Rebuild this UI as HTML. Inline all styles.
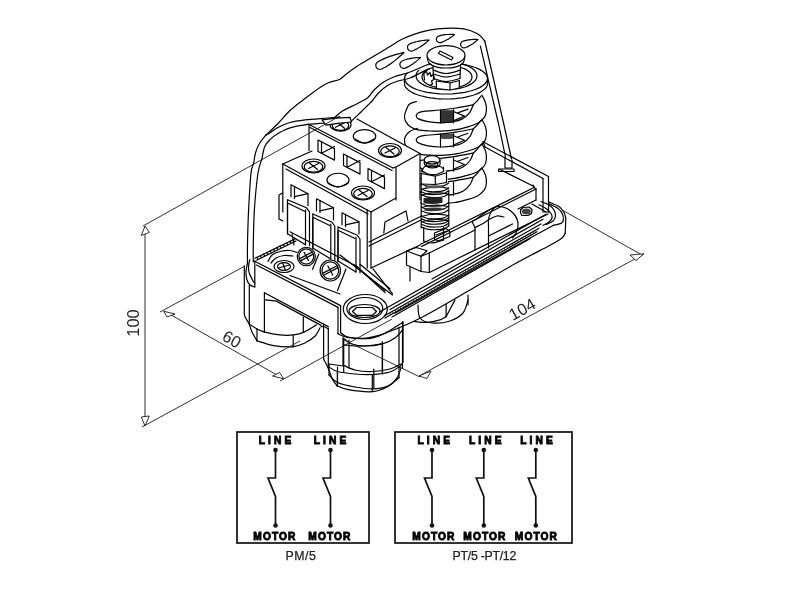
<!DOCTYPE html>
<html><head><meta charset="utf-8">
<style>
html,body{margin:0;padding:0;background:#fff;}
body{width:800px;height:600px;overflow:hidden;}
svg{display:block;will-change:transform;}
.lb{font-family:"Liberation Sans",sans-serif;font-weight:bold;font-size:10.2px;fill:#000;stroke:#000;stroke-width:0.85;}
.dm{font-family:"Liberation Sans",sans-serif;font-size:16px;fill:#222;}
.cap{font-family:"Liberation Sans",sans-serif;font-size:12.3px;fill:#222;stroke:#222;stroke-width:0.25;}
</style></head><body>
<svg width="800" height="600" viewBox="0 0 800 600">
<g stroke="none"><rect x="440.5" y="110.2" width="13" height="12.5" fill="#333"/><path d="M440.5,134.3 L453.5,133.8 L453.5,138.2 Q447,139.8 440.5,138.5Z" fill="#4a4a4a"/></g>
<g stroke="#000" fill="none" stroke-width="1.2" stroke-linejoin="round" stroke-linecap="round"><path d="M416.3,115.6 C416.6,115.2 416.6,113.7 418.0,113.0 C419.4,112.3 421.3,111.7 425.0,111.2 C428.7,110.7 434.8,110.5 440.0,110.0 C445.2,109.5 450.5,108.9 456.0,108.0 C461.5,107.1 470.3,105.3 473.2,104.8"/><path d="M416.3,115.6 C416.6,116.1 416.1,117.6 418.0,118.6 C419.9,119.6 424.3,120.9 428.0,121.6 C431.7,122.3 436.0,122.7 440.0,122.8 C444.0,122.9 448.2,122.7 452.0,122.0 C455.8,121.3 460.0,120.2 463.0,118.6 C466.0,116.9 468.3,114.4 470.0,112.1 C471.7,109.8 472.7,106.0 473.2,104.8"/><path d="M416.5,101.5 C415.2,102.0 410.8,102.7 409.0,104.5 C407.2,106.3 406.2,110.2 405.5,112.1 C404.8,114.0 404.5,114.6 404.5,116.1 C404.5,117.6 404.6,119.4 405.5,121.1 C406.4,122.8 407.9,124.9 410.0,126.4 C412.1,127.9 414.7,129.1 418.0,129.9 C421.3,130.7 426.2,130.8 430.0,131.0 C433.8,131.2 436.8,131.3 441.0,131.1 C445.2,130.9 450.5,130.6 455.0,129.9 C459.5,129.2 464.2,127.9 468.0,126.8 C471.8,125.7 475.2,124.7 478.0,123.1 C480.8,121.5 483.1,119.2 484.5,117.1 C485.9,115.0 486.2,113.0 486.4,110.6 C486.6,108.2 486.3,105.2 485.5,102.6 C484.7,100.0 482.4,96.3 481.8,95.1"/><path d="M473.2,104.8 L477.0,101.1 L481.0,96.1"/><path d="M416.3,139.8 C416.6,139.4 416.6,137.9 418.0,137.2 C419.4,136.5 421.3,135.9 425.0,135.4 C428.7,134.9 434.8,134.7 440.0,134.2 C445.2,133.7 450.5,133.1 456.0,132.2 C461.5,131.3 470.3,129.5 473.2,129.0"/><path d="M416.3,139.8 C416.6,140.3 416.1,141.8 418.0,142.8 C419.9,143.8 424.3,145.1 428.0,145.8 C431.7,146.5 436.0,146.9 440.0,147.0 C444.0,147.1 448.2,146.9 452.0,146.2 C455.8,145.5 460.0,144.5 463.0,142.8 C466.0,141.2 468.3,138.6 470.0,136.3 C471.7,134.0 472.7,130.2 473.2,129.0"/><path d="M417.5,128.3 C416.2,128.8 412.0,130.0 410.0,131.3 C408.0,132.6 406.4,134.8 405.5,136.3 C404.6,137.8 404.5,138.8 404.5,140.3 C404.5,141.8 404.6,143.6 405.5,145.3 C406.4,147.0 407.9,149.1 410.0,150.6 C412.1,152.1 414.7,153.3 418.0,154.1 C421.3,154.9 426.2,155.0 430.0,155.2 C433.8,155.4 436.8,155.5 441.0,155.3 C445.2,155.1 450.5,154.8 455.0,154.1 C459.5,153.4 464.2,152.1 468.0,151.0 C471.8,149.9 475.2,148.9 478.0,147.3 C480.8,145.7 483.1,143.4 484.5,141.3 C485.9,139.2 486.2,137.2 486.4,134.8 C486.6,132.4 486.3,129.4 485.5,126.8 C484.7,124.2 482.4,120.6 481.8,119.3"/><path d="M473.2,129.0 L477.0,125.3 L481.0,120.3"/><path d="M416.3,164.0 C416.6,163.6 416.6,162.1 418.0,161.4 C419.4,160.7 421.3,160.1 425.0,159.6 C428.7,159.1 434.8,158.9 440.0,158.4 C445.2,157.9 450.5,157.3 456.0,156.4 C461.5,155.5 470.3,153.7 473.2,153.2"/><path d="M416.3,164.0 C416.6,164.5 416.1,166.0 418.0,167.0 C419.9,168.0 424.3,169.3 428.0,170.0 C431.7,170.7 436.0,171.1 440.0,171.2 C444.0,171.3 448.2,171.1 452.0,170.4 C455.8,169.7 460.0,168.7 463.0,167.0 C466.0,165.3 468.3,162.8 470.0,160.5 C471.7,158.2 472.7,154.4 473.2,153.2"/><path d="M417.5,152.5 C416.2,153.0 412.0,154.2 410.0,155.5 C408.0,156.8 406.4,159.0 405.5,160.5 C404.6,162.0 404.5,163.0 404.5,164.5 C404.5,166.0 404.6,167.8 405.5,169.5 C406.4,171.2 407.9,173.3 410.0,174.8 C412.1,176.3 414.7,177.5 418.0,178.3 C421.3,179.1 426.2,179.2 430.0,179.4 C433.8,179.6 436.8,179.7 441.0,179.5 C445.2,179.3 450.5,179.0 455.0,178.3 C459.5,177.6 464.2,176.3 468.0,175.2 C471.8,174.1 475.2,173.1 478.0,171.5 C480.8,169.9 483.1,167.6 484.5,165.5 C485.9,163.4 486.2,161.4 486.4,159.0 C486.6,156.6 486.3,153.6 485.5,151.0 C484.7,148.4 482.4,144.8 481.8,143.5"/><path d="M473.2,153.2 L477.0,149.5 L481.0,144.5"/><path d="M416.3,188.2 C416.6,187.8 416.6,186.3 418.0,185.6 C419.4,184.9 421.3,184.3 425.0,183.8 C428.7,183.3 434.8,183.1 440.0,182.6 C445.2,182.1 450.5,181.5 456.0,180.6 C461.5,179.7 470.3,177.9 473.2,177.4"/><path d="M416.3,188.2 C416.6,188.7 416.1,190.2 418.0,191.2 C419.9,192.2 424.3,193.5 428.0,194.2 C431.7,194.9 436.0,195.3 440.0,195.4 C444.0,195.5 448.2,195.3 452.0,194.6 C455.8,193.9 460.0,192.8 463.0,191.2 C466.0,189.5 468.3,187.0 470.0,184.7 C471.7,182.4 472.7,178.6 473.2,177.4"/><path d="M417.5,176.7 C416.2,177.2 412.0,178.4 410.0,179.7 C408.0,181.0 406.4,183.2 405.5,184.7 C404.6,186.2 404.5,187.2 404.5,188.7 C404.5,190.2 404.6,192.0 405.5,193.7 C406.4,195.4 407.9,197.5 410.0,199.0 C412.1,200.5 414.7,201.7 418.0,202.5 C421.3,203.3 426.2,203.4 430.0,203.6 C433.8,203.8 436.8,203.9 441.0,203.7 C445.2,203.5 450.5,203.2 455.0,202.5 C459.5,201.8 464.2,200.5 468.0,199.4 C471.8,198.3 475.2,197.3 478.0,195.7 C480.8,194.1 483.1,191.8 484.5,189.7 C485.9,187.6 486.2,185.6 486.4,183.2 C486.6,180.8 486.3,177.8 485.5,175.2 C484.7,172.6 482.4,168.9 481.8,167.7"/><path d="M473.2,177.4 L477.0,173.7 L481.0,168.7"/><path d="M440.5,110.0 L440.5,122.8"/><path d="M453.5,109.5 L453.5,122.8"/><path d="M440.5,134.2 L440.5,147.0"/><path d="M453.5,133.7 L453.5,147.0"/><path d="M440.5,158.4 L440.5,171.2"/><path d="M453.5,157.9 L453.5,171.2"/><path d="M440.5,182.6 L440.5,195.4"/><path d="M453.5,182.1 L453.5,195.4"/><path d="M454,111.8 L464.5,116.1 L454,120.6 M457,113.1 L468,109.1"/><path d="M454,136.0 L464.5,140.3 L454,144.8 M457,137.3 L468,133.3"/><path d="M454,160.2 L464.5,164.5 L454,169.0 M457,161.5 L468,157.5"/></g>
<path d="M404.5,78.5 L404.6,77.3 L405.0,76.1 L405.6,74.9 L406.5,73.7 L407.7,72.6 L409.0,71.5 L410.6,70.4 L412.4,69.4 L414.4,68.4 L416.7,67.5 L419.0,66.7 L421.6,66.0 L424.3,65.3 L427.2,64.7 L430.1,64.2 L433.2,63.8 L436.3,63.4 L439.5,63.2 L442.7,63.0 L446.0,63.0 L449.3,63.0 L452.5,63.2 L455.7,63.4 L458.8,63.8 L461.9,64.2 L464.8,64.7 L467.7,65.3 L470.4,66.0 L473.0,66.7 L475.3,67.5 L477.6,68.4 L479.6,69.4 L481.4,70.4 L483.0,71.5 L484.3,72.6 L485.5,73.7 L486.4,74.9 L487.0,76.1 L487.4,77.3 L487.5,78.5 L487.5,83.5 L487.4,84.7 L487.0,85.9 L486.4,87.1 L485.5,88.3 L484.3,89.4 L483.0,90.5 L481.4,91.6 L479.6,92.6 L477.6,93.6 L475.3,94.5 L473.0,95.3 L470.4,96.0 L467.7,96.7 L464.8,97.3 L461.9,97.8 L458.8,98.2 L455.7,98.6 L452.5,98.8 L449.3,99.0 L446.0,99.0 L442.7,99.0 L439.5,98.8 L436.3,98.6 L433.2,98.2 L430.1,97.8 L427.2,97.3 L424.3,96.7 L421.6,96.0 L419.0,95.3 L416.7,94.5 L414.4,93.6 L412.4,92.6 L410.6,91.6 L409.0,90.5 L407.7,89.4 L406.5,88.3 L405.6,87.1 L405.0,85.9 L404.6,84.7 L404.5,83.5Z" fill="#fff" stroke="none" stroke-width="1.2"/>
<path d="M487.5,78.5 L487.0,80.9 L485.5,83.3 L483.0,85.5 L479.6,87.6 L475.3,89.5 L470.4,91.0 L464.8,92.3 L458.8,93.2 L452.5,93.8 L446.0,94.0 L439.5,93.8 L433.2,93.2 L427.2,92.3 L421.6,91.0 L416.7,89.5 L412.4,87.6 L409.0,85.5 L406.5,83.3 L405.0,80.9 L404.5,78.5 L405.0,76.1 L406.5,73.7 L409.0,71.5 L412.4,69.4 L416.7,67.5 L421.6,66.0 L427.2,64.7 L433.2,63.8 L439.5,63.2 L446.0,63.0 L452.5,63.2 L458.8,63.8 L464.8,64.7 L470.4,66.0 L475.3,67.5 L479.6,69.4 L483.0,71.5 L485.5,73.7 L487.0,76.1 L487.5,78.5Z" fill="none" stroke="#000" stroke-width="1.2"/>
<path d="M404.5,83.5 L404.6,84.7 L405.0,85.9 L405.6,87.1 L406.5,88.3 L407.7,89.4 L409.0,90.5 L410.6,91.6 L412.4,92.6 L414.4,93.6 L416.7,94.5 L419.0,95.3 L421.6,96.0 L424.3,96.7 L427.2,97.3 L430.1,97.8 L433.2,98.2 L436.3,98.6 L439.5,98.8 L442.7,99.0 L446.0,99.0 L449.3,99.0 L452.5,98.8 L455.7,98.6 L458.8,98.2 L461.9,97.8 L464.8,97.3 L467.7,96.7 L470.4,96.0 L473.0,95.3 L475.3,94.5 L477.6,93.6 L479.6,92.6 L481.4,91.6 L483.0,90.5 L484.3,89.4 L485.5,88.3 L486.4,87.1 L487.0,85.9 L487.4,84.7 L487.5,83.5" fill="none" stroke="#000" stroke-width="1.2"/>
<path d="M404.5,78.5 L404.5,83.5 M487.5,78.5 L487.5,83.5" fill="none" stroke="#000" stroke-width="1.2"/>
<path d="M477.0,75.8 L476.6,78.0 L475.5,80.1 L473.7,82.1 L471.2,83.9 L468.1,85.6 L464.4,87.0 L460.3,88.1 L455.9,88.9 L451.3,89.4 L446.5,89.6 L441.7,89.4 L437.1,88.9 L432.7,88.1 L428.6,87.0 L424.9,85.6 L421.8,83.9 L419.3,82.1 L417.5,80.1 L416.4,78.0 L416.0,75.8 L416.4,73.6 L417.5,71.5 L419.3,69.5 L421.8,67.7 L424.9,66.0 L428.6,64.6 L432.7,63.5 L437.1,62.7 L441.7,62.2 L446.5,62.0 L451.3,62.2 L455.9,62.7 L460.3,63.5 L464.4,64.6 L468.1,66.0 L471.2,67.7 L473.7,69.5 L475.5,71.5 L476.6,73.6 L477.0,75.8Z" fill="none" stroke="#000" stroke-width="1.2"/>
<path d="M472.0,77.0 L471.7,78.8 L470.8,80.6 L469.3,82.2 L467.2,83.8 L464.7,85.1 L461.7,86.3 L458.3,87.2 L454.7,87.9 L450.9,88.4 L447.0,88.5 L443.1,88.4 L439.3,87.9 L435.7,87.2 L432.3,86.3 L429.3,85.1 L426.8,83.8 L424.7,82.2 L423.2,80.6 L422.3,78.8 L422.0,77.0 L422.3,75.2 L423.2,73.4 L424.7,71.8 L426.8,70.2 L429.3,68.9 L432.3,67.7 L435.7,66.8 L439.3,66.1 L443.1,65.6 L447.0,65.5 L450.9,65.6 L454.7,66.1 L458.3,66.8 L461.7,67.7 L464.7,68.9 L467.2,70.2 L469.3,71.8 L470.8,73.4 L471.7,75.2 L472.0,77.0Z" fill="none" stroke="#000" stroke-width="1.2"/>
<g stroke="none"></g>
<g stroke="none" fill="#fff">
<path d="M335.0,117.0 C343.8,116.8 338.8,113.2 342.5,111.0 C346.2,108.8 353.2,105.8 357.5,103.5 C361.8,101.2 365.2,99.8 368.0,97.5 C370.8,95.2 371.5,92.5 374.0,90.0 C376.5,87.5 379.5,84.8 383.0,82.5 C386.5,80.2 390.5,78.2 395.0,76.5 C399.5,74.8 404.2,74.2 410.0,72.0 C415.8,69.8 426.0,70.4 430.0,63.5 C434.0,56.6 436.2,35.4 433.8,30.5 C431.2,25.6 420.2,32.6 415.0,34.0 C409.8,35.4 407.1,36.7 402.5,39.0 C397.9,41.3 392.5,45.0 387.5,48.0 C382.5,51.0 377.5,54.0 372.5,57.0 C367.5,60.0 361.8,63.2 357.5,66.0 C353.2,68.8 350.0,71.2 347.0,73.5 C344.0,75.8 342.5,78.0 339.5,79.5 C336.5,81.0 332.2,81.2 329.0,82.5 C325.8,83.8 324.0,84.5 320.0,87.0 C316.0,89.5 310.0,93.2 305.0,97.5 C300.0,101.8 285.0,109.2 290.0,112.5 C295.0,115.8 326.2,117.2 335.0,117.0Z"/>
<path d="M427.0,55.0 L428.0,62.0 L433.0,66.0 L433.5,79.0 L436.5,88.5 L450.0,90.2 L459.2,88.0 L460.0,79.0 L460.5,65.5 L464.0,62.0 L465.0,55.0 L446.0,45.5Z"/>
<path d="M424.0,158.0 L432.0,155.5 L440.0,158.0 L443.5,166.0 L446.5,172.5 L448.8,185.0 L449.0,226.0 L444.0,241.0 L432.0,244.0 L423.7,242.0 L421.2,228.0 L421.2,173.0Z"/>
<path d="M309.0,124.5 L357.0,119.0 L420.0,153.5 L420.0,250.0 L396.0,262.0 L309.0,215.0Z"/>
</g>
<g stroke="#000" fill="none" stroke-width="1.2" stroke-linejoin="round" stroke-linecap="round">
<path d="M266.0,135.0 C267.9,133.2 273.5,128.1 277.5,124.0 C281.5,119.9 285.4,114.8 290.0,110.5 C294.6,106.2 300.0,102.3 305.0,98.5 C310.0,94.7 316.0,90.2 320.0,87.5 C324.0,84.8 325.8,83.8 329.0,82.5 C332.2,81.2 336.5,81.0 339.5,79.5 C342.5,78.0 344.0,75.8 347.0,73.5 C350.0,71.2 353.2,68.8 357.5,66.0 C361.8,63.2 367.5,60.0 372.5,57.0 C377.5,54.0 382.5,51.0 387.5,48.0 C392.5,45.0 397.1,41.6 402.5,39.0 C407.9,36.4 414.2,34.0 420.0,32.3 C425.8,30.6 430.2,29.4 437.5,28.8 C444.8,28.2 457.0,27.9 463.8,28.8 C470.5,29.7 474.2,32.0 477.8,34.0 C481.2,36.0 483.6,39.8 484.8,41.0"/>
<path d="M484.8,41.0 L504.0,125.0 L511.5,159.0"/>
<path d="M480.4,46.2 L498.8,125.0 L505.5,157.0"/>
<path d="M266.0,135.0 C265.0,136.2 261.7,139.6 260.0,142.5 C258.3,145.4 256.6,149.2 255.6,152.5 C254.6,155.8 254.5,159.1 253.8,162.5 C253.0,165.9 251.8,165.4 251.0,173.0 C250.2,180.6 249.3,196.3 248.7,208.0 C248.1,219.7 247.7,233.7 247.5,243.0 C247.3,252.3 247.5,260.5 247.5,264.0"/>
<path d="M261.9,159.2 C261.2,161.5 259.2,164.9 258.0,173.0 C256.8,181.1 255.3,196.3 254.5,208.0 C253.7,219.7 253.5,234.0 253.3,243.0 C253.1,252.0 253.3,258.8 253.3,262.0"/>
<path d="M266.0,135.0 C266.6,134.7 267.6,134.3 269.8,133.0 C271.9,131.7 275.4,128.8 278.8,127.0 C282.1,125.2 285.6,123.7 290.0,122.5 C294.4,121.3 298.8,120.7 305.0,119.9 C311.2,119.2 321.7,118.5 327.5,118.0 C333.3,117.5 337.9,117.2 340.0,117.0"/>
<path d="M261.9,159.2 C262.3,157.2 263.2,150.5 264.5,147.2 C265.8,144.0 267.4,142.1 269.8,139.8 C272.1,137.4 275.4,135.0 278.8,133.0 C282.1,131.0 285.6,129.1 290.0,127.8 C294.4,126.4 299.2,125.5 305.0,124.8 C310.8,124.0 319.2,123.5 325.0,123.0 C330.8,122.5 337.5,122.2 340.0,122.0"/>
<path d="M333.0,119.0 C334.6,117.7 338.4,113.6 342.5,111.0 C346.6,108.4 353.2,105.8 357.5,103.5 C361.8,101.2 365.2,99.8 368.0,97.5 C370.8,95.2 371.5,92.5 374.0,90.0 C376.5,87.5 379.5,84.8 383.0,82.5 C386.5,80.2 390.5,78.2 395.0,76.5 C399.5,74.8 404.2,74.2 410.0,72.0 C415.8,69.8 426.7,64.9 430.0,63.5"/>
<path d="M351.5,121.0 C353.2,119.3 359.2,113.7 362.0,111.0 C364.8,108.3 366.2,106.8 368.0,105.0 C369.8,103.2 370.8,102.5 372.5,100.5 C374.2,98.5 376.0,95.5 378.5,93.0 C381.0,90.5 384.2,87.5 387.5,85.5 C390.8,83.5 394.2,82.2 398.0,81.0 C401.8,79.8 405.0,80.0 410.0,78.0 C415.0,76.0 425.0,70.5 428.0,69.0"/>
<path d="M404.0,52.5 C404.0,52.6 403.9,52.7 403.6,52.9 C403.4,53.2 403.0,53.6 402.4,54.0 C401.9,54.5 401.3,55.1 400.5,55.8 C399.8,56.4 398.9,57.2 398.0,58.0 C397.1,58.7 396.1,59.6 395.0,60.4 C394.0,61.2 392.8,62.1 391.7,62.9 C390.6,63.7 389.5,64.5 388.4,65.2 C387.3,65.9 386.2,66.6 385.2,67.2 C384.1,67.8 383.2,68.4 382.3,68.8 C381.4,69.2 380.6,69.5 379.9,69.5 C379.1,69.5 378.3,69.2 377.7,68.8 C377.1,68.5 376.6,67.9 376.3,67.3 C376.0,66.7 375.8,65.9 375.8,65.2 C375.8,64.5 376.0,63.7 376.4,63.1 C376.9,62.4 377.6,61.9 378.4,61.4 C379.2,60.9 380.2,60.5 381.3,60.0 C382.3,59.4 383.5,58.9 384.7,58.4 C386.0,57.9 387.3,57.4 388.6,56.9 C389.8,56.4 391.2,56.0 392.4,55.6 C393.7,55.1 395.0,54.8 396.1,54.4 C397.3,54.1 398.4,53.8 399.3,53.6 C400.3,53.3 401.2,53.1 401.8,52.9 C402.5,52.8 403.1,52.7 403.4,52.6 C403.8,52.5 404.0,52.4 404.0,52.5Z"/>
<path d="M420.5,57.5 C420.5,57.6 420.4,57.6 420.2,57.8 C420.0,58.0 419.7,58.3 419.4,58.6 C419.0,59.0 418.5,59.4 418.0,59.9 C417.5,60.3 416.8,60.9 416.2,61.4 C415.5,61.9 414.8,62.5 414.0,63.1 C413.2,63.6 412.4,64.2 411.6,64.7 C410.8,65.3 409.9,65.8 409.1,66.2 C408.3,66.7 407.5,67.1 406.8,67.4 C406.0,67.8 405.3,68.2 404.7,68.3 C404.0,68.4 403.3,68.4 402.7,68.3 C402.2,68.1 401.6,67.8 401.2,67.4 C400.8,67.0 400.4,66.5 400.2,66.0 C400.0,65.5 399.9,64.9 399.9,64.3 C399.9,63.8 400.1,63.1 400.4,62.6 C400.7,62.1 401.1,61.6 401.7,61.2 C402.3,60.8 403.0,60.6 403.8,60.3 C404.6,60.0 405.4,59.7 406.3,59.5 C407.2,59.2 408.2,59.0 409.1,58.8 C410.0,58.5 411.0,58.4 412.0,58.2 C412.9,58.1 413.8,57.9 414.7,57.8 C415.5,57.7 416.3,57.7 417.1,57.6 C417.8,57.6 418.4,57.5 418.9,57.5 C419.4,57.5 419.8,57.5 420.1,57.5 C420.4,57.5 420.5,57.4 420.5,57.5Z"/>
<path d="M429.0,40.0 C429.0,40.1 428.9,40.1 428.7,40.3 C428.5,40.5 428.2,40.8 427.8,41.1 C427.4,41.5 426.9,41.9 426.3,42.4 C425.8,42.8 425.1,43.4 424.4,43.9 C423.7,44.4 422.9,45.0 422.1,45.6 C421.3,46.2 420.4,46.7 419.6,47.3 C418.7,47.8 417.8,48.3 417.0,48.8 C416.2,49.2 415.3,49.7 414.5,50.0 C413.7,50.4 413.0,50.8 412.3,51.0 C411.6,51.1 411.0,51.1 410.4,51.0 C409.8,50.9 409.2,50.5 408.8,50.2 C408.4,49.8 408.0,49.3 407.8,48.7 C407.6,48.2 407.5,47.6 407.5,47.0 C407.6,46.5 407.7,45.9 408.0,45.3 C408.4,44.8 408.9,44.4 409.5,44.0 C410.1,43.6 410.9,43.4 411.7,43.1 C412.5,42.8 413.4,42.5 414.3,42.2 C415.2,42.0 416.2,41.7 417.2,41.5 C418.2,41.2 419.2,41.1 420.2,40.9 C421.1,40.7 422.1,40.6 423.0,40.5 C423.9,40.3 424.7,40.3 425.4,40.2 C426.2,40.1 426.8,40.1 427.4,40.0 C427.9,40.0 428.3,40.0 428.6,40.0 C428.8,40.0 429.0,39.9 429.0,40.0Z"/>
<path d="M454.5,34.5 C454.5,34.5 454.4,34.6 454.2,34.7 C454.1,34.9 453.8,35.1 453.5,35.4 C453.1,35.7 452.7,36.0 452.2,36.4 C451.7,36.7 451.1,37.2 450.5,37.6 C449.9,38.0 449.3,38.4 448.6,38.9 C447.9,39.3 447.1,39.7 446.4,40.1 C445.7,40.5 444.9,40.9 444.2,41.2 C443.5,41.6 442.8,41.9 442.1,42.1 C441.4,42.3 440.8,42.6 440.2,42.7 C439.6,42.7 439.1,42.7 438.6,42.5 C438.1,42.3 437.7,42.0 437.3,41.6 C437.0,41.3 436.7,40.8 436.6,40.4 C436.4,39.9 436.4,39.4 436.4,38.9 C436.5,38.4 436.7,37.9 436.9,37.4 C437.2,37.0 437.6,36.6 438.2,36.3 C438.7,36.0 439.3,35.9 440.0,35.7 C440.7,35.5 441.4,35.3 442.2,35.1 C443.0,35.0 443.8,34.8 444.7,34.7 C445.5,34.6 446.3,34.5 447.1,34.5 C447.9,34.4 448.8,34.4 449.5,34.4 C450.2,34.3 450.9,34.3 451.5,34.3 C452.1,34.3 452.7,34.4 453.1,34.4 C453.6,34.4 453.9,34.4 454.1,34.5 C454.4,34.5 454.5,34.5 454.5,34.5Z"/>
<path d="M478.0,39.5 C478.0,39.5 477.9,39.6 477.8,39.8 C477.6,39.9 477.3,40.1 477.0,40.4 C476.7,40.7 476.3,41.0 475.8,41.4 C475.4,41.8 474.8,42.2 474.3,42.6 C473.7,43.1 473.1,43.5 472.4,44.0 C471.8,44.4 471.1,44.9 470.4,45.3 C469.7,45.7 468.9,46.0 468.3,46.4 C467.6,46.7 466.9,47.0 466.2,47.3 C465.6,47.5 465.0,47.8 464.4,47.9 C463.9,47.9 463.3,47.9 462.8,47.7 C462.4,47.5 461.9,47.2 461.6,46.9 C461.2,46.5 461.0,46.1 460.8,45.6 C460.6,45.2 460.6,44.7 460.6,44.2 C460.7,43.7 460.8,43.2 461.1,42.8 C461.3,42.3 461.7,41.9 462.2,41.6 C462.7,41.3 463.3,41.1 464.0,40.9 C464.6,40.7 465.3,40.5 466.1,40.3 C466.8,40.2 467.6,40.0 468.4,39.9 C469.2,39.8 470.1,39.7 470.8,39.6 C471.6,39.5 472.4,39.5 473.1,39.4 C473.8,39.4 474.5,39.4 475.1,39.4 C475.7,39.4 476.2,39.4 476.7,39.4 C477.1,39.4 477.4,39.4 477.7,39.5 C477.9,39.5 478.0,39.5 478.0,39.5Z"/>
<path d="M505.0,157.0 L505.0,168.0 L512.0,168.0 L512.0,160.0"/>
<path d="M498.6,169.0 L514.0,169.0 L514.0,171.5 L498.6,171.5 L498.6,169.0"/>
<ellipse cx="446" cy="55.3" rx="19" ry="9.7"/>
<path d="M427.2,57.0 C427.5,58.0 427.5,61.4 429.0,63.0 C430.5,64.6 433.2,66.0 436.0,66.8 C438.8,67.6 442.7,68.0 446.0,68.0 C449.3,68.0 453.2,67.6 456.0,66.8 C458.8,66.0 461.5,64.6 463.0,63.0 C464.5,61.4 464.5,58.0 464.8,57.0"/>
<path d="M440.0,51.0 L453.0,57.5 L451.5,60.0 L438.5,53.5Z"/>
<path d="M433.0,66.0 L433.5,78.5"/>
<path d="M460.5,65.5 L460.0,78.5"/>
<path d="M433.0,70.0 C435.2,70.6 441.4,73.5 446.0,73.5 C450.6,73.5 458.1,70.6 460.5,70.0"/>
<path d="M433.5,74.0 C435.6,74.5 441.6,77.0 446.0,77.0 C450.4,77.0 457.7,74.5 460.0,74.0"/>
<path d="M433.5,78.5 C435.6,79.0 441.6,81.5 446.0,81.5 C450.4,81.5 457.7,79.0 460.0,78.5"/>
<path d="M436.3,81.0 L450.0,83.0 L459.4,80.5"/>
<path d="M436.3,81.0 L436.5,88.5"/>
<path d="M450.0,83.0 L450.0,90.0"/>
<path d="M459.4,80.5 L459.2,88.0"/>
<path d="M436.5,88.5 L450.0,90.0 L459.2,88.0"/>
<path d="M423.8,73.5 L426.5,71.2 L427.5,75.0 L430.0,72.5 L431.0,76.5 L433.5,74.0 L434.5,79.0 L431.5,81.0 L432.5,84.0 L429.5,85.5"/>
<path d="M423.8,73.5 L424.5,80.0"/>
<ellipse cx="432" cy="159.9" rx="7.9" ry="4.2"/>
<path d="M424.2,160.5 C424.3,161.2 423.7,163.8 425.0,165.0 C426.3,166.2 429.6,167.9 432.0,168.0 C434.4,168.1 438.2,166.8 439.5,165.5 C440.8,164.2 439.9,161.3 440.0,160.5"/>
<ellipse cx="432" cy="164.2" rx="5.8" ry="2.6"/>
<path d="M422.0,171.0 C422.5,170.2 423.3,167.4 425.0,166.5 C426.7,165.6 429.5,165.8 432.0,165.8 C434.5,165.8 438.1,166.0 440.0,166.5 C441.9,167.0 442.9,168.6 443.5,169.0"/>
<path d="M422.0,171.0 C423.0,171.5 425.7,173.4 428.0,174.0 C430.3,174.6 433.4,174.9 436.0,174.5 C438.6,174.1 442.2,172.0 443.5,171.5"/>
<path d="M422.0,168.5 L422.0,172.0"/>
<path d="M443.5,167.0 L443.5,171.5"/>
<path d="M421.2,173.5 L435.3,176.2 L446.5,172.8"/>
<path d="M421.2,173.5 L421.2,184.0"/>
<path d="M435.3,176.2 L435.3,184.5"/>
<path d="M446.5,172.8 L446.5,182.5"/>
<path d="M421.2,184.0 L435.3,184.5 L446.5,182.5"/>
<path d="M421.5,184.0 C422.6,184.4 425.6,185.9 428.0,186.3 C430.4,186.8 433.3,186.8 436.0,186.7 C438.7,186.6 441.9,186.3 444.0,185.7 C446.1,185.1 447.8,183.4 448.6,183.0"/>
<path d="M421.5,189.0 C422.6,189.4 425.6,190.9 428.0,191.3 C430.4,191.8 433.3,191.8 436.0,191.7 C438.7,191.6 441.9,191.3 444.0,190.7 C446.1,190.1 447.8,188.4 448.6,188.0"/>
<path d="M421.5,191.8 C422.6,192.2 425.6,193.7 428.0,194.1 C430.4,194.6 433.3,194.6 436.0,194.5 C438.7,194.4 441.9,194.1 444.0,193.5 C446.1,192.9 447.8,191.2 448.6,190.8"/>
<path d="M421.5,194.8 C422.6,195.2 425.6,196.7 428.0,197.1 C430.4,197.6 433.3,197.6 436.0,197.5 C438.7,197.4 441.9,197.1 444.0,196.5 C446.1,195.9 447.8,194.2 448.6,193.8"/>
<path d="M421.5,203.5 C422.6,203.9 425.6,205.4 428.0,205.8 C430.4,206.2 433.3,206.3 436.0,206.2 C438.7,206.1 441.9,205.8 444.0,205.2 C446.1,204.6 447.8,202.9 448.6,202.5"/>
<path d="M421.5,207.2 C422.6,207.6 425.6,209.1 428.0,209.5 C430.4,209.9 433.3,210.0 436.0,209.9 C438.7,209.8 441.9,209.5 444.0,208.9 C446.1,208.3 447.8,206.6 448.6,206.2"/>
<path d="M421.5,210.8 C422.6,211.2 425.6,212.7 428.0,213.1 C430.4,213.6 433.3,213.6 436.0,213.5 C438.7,213.4 441.9,213.1 444.0,212.5 C446.1,211.9 447.8,210.2 448.6,209.8"/>
<path d="M421.5,216.2 C422.6,216.6 425.6,218.1 428.0,218.5 C430.4,218.9 433.3,219.0 436.0,218.9 C438.7,218.8 441.9,218.5 444.0,217.9 C446.1,217.3 447.8,215.6 448.6,215.2"/>
<path d="M421.5,218.8 C422.6,219.2 425.6,220.7 428.0,221.1 C430.4,221.6 433.3,221.6 436.0,221.5 C438.7,221.4 441.9,221.1 444.0,220.5 C446.1,219.9 447.8,218.2 448.6,217.8"/>
<path d="M421.5,221.5 C422.6,221.9 425.6,223.4 428.0,223.8 C430.4,224.2 433.3,224.3 436.0,224.2 C438.7,224.1 441.9,223.8 444.0,223.2 C446.1,222.6 447.8,220.9 448.6,220.5"/>
<path d="M421.5,224.3 C422.6,224.7 425.6,226.2 428.0,226.6 C430.4,227.1 433.3,227.1 436.0,227.0 C438.7,226.9 441.9,226.6 444.0,226.0 C446.1,225.4 447.8,223.8 448.6,223.3"/>
<path d="M421.5,227.0 C422.6,227.4 425.6,228.9 428.0,229.3 C430.4,229.8 433.3,229.8 436.0,229.7 C438.7,229.6 441.9,229.3 444.0,228.7 C446.1,228.1 447.8,226.4 448.6,226.0"/>
<path d="M422.0,189.2 C423.3,188.9 427.0,187.7 430.0,187.3 C433.0,187.0 436.9,186.9 440.0,187.1 C443.1,187.3 447.0,188.1 448.4,188.3"/>
<path d="M422.0,195.0 C423.3,194.7 427.0,193.5 430.0,193.1 C433.0,192.8 436.9,192.7 440.0,192.9 C443.1,193.1 447.0,193.9 448.4,194.1"/>
<path d="M422.0,207.4 C423.3,207.1 427.0,205.8 430.0,205.5 C433.0,205.2 436.9,205.1 440.0,205.3 C443.1,205.5 447.0,206.3 448.4,206.5"/>
<path d="M422.0,216.4 C423.3,216.1 427.0,214.8 430.0,214.5 C433.0,214.2 436.9,214.1 440.0,214.3 C443.1,214.5 447.0,215.3 448.4,215.5"/>
<path d="M422.0,221.7 C423.3,221.4 427.0,220.2 430.0,219.8 C433.0,219.5 436.9,219.4 440.0,219.6 C443.1,219.8 447.0,220.6 448.4,220.8"/>
<path d="M421.2,184.0 L421.2,228.0"/>
<path d="M448.8,190.0 L448.8,226.0"/>
<path d="M423.7,227.5 L423.7,241.0"/>
<path d="M443.5,227.5 L443.5,240.0"/>
<path d="M423.7,241.0 C425.1,241.3 428.7,243.2 432.0,243.0 C435.3,242.8 441.6,240.5 443.5,240.0"/>
<path d="M434.5,233.0 L446.0,228.4 L449.8,231.5 L449.8,236.5 L438.0,241.0 L434.5,239.0Z"/>
<path d="M436.0,235.0 L447.0,231.0"/>
<path d="M309.0,124.5 L393.0,168.0"/>
<path d="M310.0,127.5 L392.0,170.5"/>
<path d="M357.0,119.0 L420.0,153.5"/>
<path d="M396.0,167.0 L420.0,153.5"/>
<path d="M393.0,168.0 L396.0,167.0"/>
<path d="M309.0,124.5 L309.0,150.5"/>
<path d="M396.0,168.0 L396.0,200.0"/>
<path d="M420.0,153.5 L420.0,200.0"/>
<path d="M318.0,140.0 L334.5,148.6 L334.5,160.1 L318.0,151.5Z"/>
<path d="M321.5,141.8 L321.5,153.3"/>
<path d="M321.5,153.3 L334.5,146.5"/>
<path d="M343.5,154.0 L360.0,162.6 L360.0,174.1 L343.5,165.5Z"/>
<path d="M347.0,155.8 L347.0,167.3"/>
<path d="M347.0,167.3 L360.0,160.5"/>
<path d="M368.0,168.5 L384.5,177.1 L384.5,188.6 L368.0,180.0Z"/>
<path d="M371.5,170.3 L371.5,181.8"/>
<path d="M371.5,181.8 L384.5,175.0"/>
<ellipse cx="340.5" cy="124.8" rx="10.5" ry="6.3"/>
<ellipse cx="340.5" cy="125.6" rx="8.3" ry="4.699999999999999"/>
<path d="M335.5,127.3 L345.5,122.3"/>
<path d="M336.5,121.8 L344.5,128.3"/>
<ellipse cx="390" cy="150.5" rx="11.5" ry="7"/>
<ellipse cx="390" cy="151.3" rx="9.3" ry="5.4"/>
<path d="M385.0,153.0 L395.0,148.0"/>
<path d="M386.0,147.5 L394.0,154.0"/>
<ellipse cx="364.5" cy="136.3" rx="11.25" ry="6.75"/>
<path d="M355.0,139.0 C356.6,139.7 361.3,143.0 364.5,143.0 C367.7,143.0 372.4,139.7 374.0,139.0"/>
<path d="M282.8,164.0 L367.2,210.0"/>
<path d="M282.8,164.0 L312.0,151.0"/>
<path d="M367.2,210.0 L371.0,212.0"/>
<path d="M371.0,212.0 L396.0,198.0"/>
<path d="M282.8,164.0 L282.8,212.0"/>
<path d="M367.2,210.0 L367.2,268.0"/>
<path d="M371.0,212.0 L371.0,268.0"/>
<path d="M371.0,268.0 L420.0,245.0"/>
<path d="M286.0,169.0 L368.0,214.0"/>
<ellipse cx="313.5" cy="166" rx="11.5" ry="7"/>
<ellipse cx="313.5" cy="166.8" rx="9.3" ry="5.4"/>
<path d="M308.5,168.5 L318.5,163.5"/>
<path d="M309.5,163.0 L317.5,169.5"/>
<ellipse cx="363" cy="193" rx="11.5" ry="7"/>
<ellipse cx="363" cy="193.8" rx="9.3" ry="5.4"/>
<path d="M358.0,195.5 L368.0,190.5"/>
<path d="M359.0,190.0 L367.0,196.5"/>
<ellipse cx="338" cy="180" rx="11" ry="6.75"/>
<path d="M328.0,183.0 C329.7,183.7 334.7,187.0 338.0,187.0 C341.3,187.0 346.3,183.7 348.0,183.0"/>
<path d="M291.0,196.7 L291.0,184.7 L308.0,193.7 L308.0,205.7"/>
<path d="M294.5,186.5 L294.5,198.5"/>
<path d="M294.5,196.7 L308.0,193.7"/>
<path d="M316.5,210.8 L316.5,198.8 L333.5,207.8 L333.5,219.8"/>
<path d="M320.0,200.6 L320.0,212.6"/>
<path d="M320.0,210.8 L333.5,207.8"/>
<path d="M342.0,224.8 L342.0,212.8 L359.0,221.8 L359.0,233.8"/>
<path d="M345.5,214.6 L345.5,226.6"/>
<path d="M345.5,224.8 L359.0,221.8"/>
<path d="M287.5,203.8 L287.5,233.8"/>
<path d="M287.5,199.8 L306.5,207.8 L309.5,211.8 L309.5,245.8"/>
<path d="M287.5,199.8 L287.5,233.8"/>
<path d="M305.5,209.8 L305.5,244.8"/>
<path d="M288.0,203.3 L304.5,211.3"/>
<path d="M287.5,233.8 L305.5,244.8"/>
<path d="M312.8,218.0 L312.8,248.0"/>
<path d="M312.8,214.0 L331.8,222.0 L334.8,226.0 L334.8,260.0"/>
<path d="M312.8,214.0 L312.8,248.0"/>
<path d="M330.8,224.0 L330.8,259.0"/>
<path d="M313.3,217.5 L329.8,225.5"/>
<path d="M312.8,248.0 L330.8,259.0"/>
<path d="M338.0,231.0 L338.0,261.0"/>
<path d="M338.0,227.0 L357.0,235.0 L360.0,239.0 L360.0,273.0"/>
<path d="M338.0,227.0 L338.0,261.0"/>
<path d="M356.0,237.0 L356.0,272.0"/>
<path d="M338.5,230.5 L355.0,238.5"/>
<path d="M338.0,261.0 L356.0,272.0"/>
<path d="M282.8,193.0 L279.0,195.0 L279.0,219.0 L282.8,221.0"/>
<path d="M369.0,242.0 L422.0,215.8"/>
<path d="M369.0,246.0 L422.0,219.5"/>
<path d="M383.8,233.0 L385.0,222.0 L406.0,211.0 L408.0,221.0"/>
<path d="M340.0,255.0 L377.5,283.8 L392.5,295.0"/>
<path d="M355.0,265.0 L385.0,292.5"/>
<path d="M373.0,268.8 L392.5,293.8"/>
<path d="M410.0,267.5 L410.0,281.0"/>
<path d="M255.2,261.5 L340.6,305.6"/>
<path d="M256.5,265.0 L338.0,307.4"/>
<path d="M254.8,260.5 L254.8,287.0"/>
<path d="M340.6,305.6 L340.6,333.0"/>
<path d="M338.0,307.0 L338.0,334.0"/>
<path d="M264.4,292.7 L264.4,332.5"/>
<path d="M264.4,292.7 L328.3,326.6"/>
<path d="M277.2,301.6 L321.1,325.4"/>
<path d="M265.3,299.8 L277.2,301.2"/>
<path d="M303.3,317.0 L303.3,332.5"/>
<path d="M321.1,326.6 C321.7,326.6 323.3,326.4 324.5,326.8 C325.7,327.2 327.7,328.6 328.3,329.0"/>
<path d="M244.3,265.8 L244.3,313.5"/>
<path d="M244.3,313.5 C244.4,314.1 244.4,315.4 245.1,317.0 C245.8,318.6 248.0,321.8 248.7,323.0 C249.4,324.2 249.2,324.0 249.3,324.2"/>
<path d="M249.3,285.0 L249.3,324.0"/>
<path d="M249.8,259.6 C249.5,260.8 248.6,264.4 248.5,266.7 C248.4,269.0 248.5,270.8 249.3,273.3 C250.1,275.8 252.6,280.1 253.5,281.7 C254.4,283.3 254.5,282.8 254.8,283.0"/>
<path d="M247.7,262.0 C247.4,263.7 246.1,269.0 246.0,272.0 C245.9,275.0 246.3,277.8 247.0,280.0 C247.7,282.2 248.7,283.8 250.0,285.0 C251.3,286.2 254.0,286.7 254.8,287.0"/>
<path d="M249.3,324.2 C249.8,325.5 250.7,329.2 252.0,332.0 C253.3,334.8 256.2,339.3 257.0,340.8"/>
<path d="M257.0,329.0 C258.2,329.5 260.3,330.9 264.1,331.9 C267.9,332.9 274.7,334.4 279.6,334.9 C284.6,335.4 289.7,335.4 293.8,334.9 C297.9,334.4 300.7,333.6 304.5,331.9 C308.3,330.2 314.4,326.0 316.4,324.8"/>
<path d="M257.0,340.8 C259.8,341.6 267.7,344.6 273.6,345.6 C279.5,346.6 287.5,347.2 292.6,346.8 C297.8,346.4 300.7,345.0 304.5,343.2 C308.3,341.4 312.6,338.6 315.2,336.0 C317.8,333.4 319.2,329.2 320.0,327.8"/>
<path d="M257.0,329.0 L257.0,340.8"/>
<path d="M293.2,335.0 L293.2,346.8"/>
<path d="M249.3,324.2 L257.0,329.0"/>
<path d="M323.6,325.0 L323.6,359.0"/>
<path d="M323.6,359.0 C324.4,360.6 326.9,365.0 328.3,368.3 C329.8,371.6 330.9,376.1 332.3,379.0 C333.8,381.9 336.2,384.6 337.0,385.7"/>
<path d="M337.0,385.7 C338.9,386.4 342.4,388.7 348.3,389.7 C354.2,390.7 365.9,392.1 372.3,391.7 C378.8,391.2 382.6,389.3 387.0,387.0 C391.4,384.7 397.0,379.2 399.0,377.7"/>
<path d="M403.0,321.7 L403.0,361.7"/>
<path d="M403.0,361.7 C402.8,362.2 402.2,363.5 401.5,364.5 C400.8,365.5 399.4,367.2 399.0,367.7"/>
<path d="M399.0,367.7 L399.0,377.7"/>
<path d="M328.3,328.0 L328.3,368.0"/>
<path d="M328.4,366.6 C329.9,367.4 333.0,370.3 337.4,371.5 C341.8,372.7 349.2,373.5 355.0,374.0 C360.8,374.5 366.5,374.8 372.3,374.5 C378.1,374.2 385.5,373.3 390.0,372.0 C394.5,370.7 397.8,367.5 399.3,366.6"/>
<path d="M337.4,371.5 L337.4,386.5"/>
<path d="M372.3,374.5 L372.3,391.7"/>
<path d="M343.7,339.0 L343.7,372.5"/>
<path d="M382.3,341.7 L382.3,374.0"/>
<path d="M343.7,345.0 C345.6,345.2 350.6,345.9 355.0,346.0 C359.4,346.1 365.4,345.9 370.0,345.5 C374.6,345.1 380.2,344.0 382.3,343.7"/>
<path d="M399.0,327.0 L399.0,365.0"/>
<path d="M338.0,333.7 C338.9,334.1 340.9,335.5 343.7,336.3 C346.5,337.1 350.4,338.0 355.0,338.3 C359.6,338.6 366.1,339.1 371.0,338.3 C375.9,337.5 379.2,336.2 384.3,333.7 C389.4,331.1 398.8,324.8 401.7,323.0"/>
<ellipse cx="365.3" cy="309" rx="22" ry="14.5"/>
<ellipse cx="364.8" cy="308.5" rx="18" ry="11"/>
<ellipse cx="364.5" cy="311" rx="15.5" ry="6.5"/>
<path d="M352.5,311.5 L356.5,307.5 L372.5,307.5 L376.5,311.5 L372.5,315.3 L356.5,315.3Z"/>
<path d="M414.6,321.6 C416.7,321.7 422.7,322.6 426.9,322.3 C431.1,322.0 436.8,320.7 440.0,319.8 C443.2,318.9 445.1,317.2 446.1,316.7"/>
<path d="M446.1,316.7 L454.9,300.1"/>
<path d="M446.1,304.5 L446.1,316.7"/>
<path d="M255.0,258.3 L295.0,238.9"/>
<path d="M256.5,260.2 L296.0,241.0"/>
<path d="M257.0,257.3 L257.9,259.1"/>
<path d="M260.3,255.7 L261.2,257.5"/>
<path d="M263.6,254.1 L264.5,255.9"/>
<path d="M266.9,252.5 L267.8,254.3"/>
<path d="M270.2,250.9 L271.1,252.7"/>
<path d="M273.5,249.3 L274.4,251.1"/>
<path d="M276.8,247.7 L277.7,249.5"/>
<path d="M280.1,246.1 L281.0,247.9"/>
<path d="M283.4,244.5 L284.3,246.3"/>
<path d="M286.7,242.9 L287.6,244.7"/>
<path d="M290.0,241.3 L290.9,243.1"/>
<path d="M293.3,239.7 L294.2,241.5"/>
<path d="M268.0,261.5 C268.7,260.4 270.0,256.7 272.0,255.0 C274.0,253.3 277.0,252.2 280.0,251.5 C283.0,250.8 287.2,250.3 290.0,250.5 C292.8,250.7 295.8,252.2 297.0,252.5"/>
<path d="M271.0,263.0 C271.8,262.2 273.8,259.2 276.0,258.0 C278.2,256.8 281.2,255.8 284.0,255.5 C286.8,255.2 291.5,255.9 293.0,256.0"/>
<ellipse cx="284" cy="266.5" rx="10" ry="6"/>
<ellipse cx="284" cy="266.5" rx="6.5" ry="3.8"/>
<path d="M278.5,268.0 L289.5,265.0"/>
<path d="M282.5,262.5 L285.5,270.5"/>
<ellipse cx="306.3" cy="256.5" rx="9.0" ry="9.27"/>
<ellipse cx="306.3" cy="256.5" rx="7.38" ry="7.6499999999999995"/>
<path d="M299.4,258.9 L312.1,252.1"/>
<path d="M300.5,260.9 L313.2,254.1"/>
<path d="M304.2,252.5 L308.4,260.5"/>
<ellipse cx="330.3" cy="270.5" rx="10.2" ry="10.506"/>
<ellipse cx="330.3" cy="270.5" rx="8.363999999999999" ry="8.67"/>
<path d="M322.6,273.4 L337.0,265.7"/>
<path d="M323.6,275.3 L338.0,267.6"/>
<path d="M327.9,266.0 L332.7,275.0"/>
<path d="M290.0,231.8 L357.5,266.8"/>
<path d="M290.0,275.5 L340.0,294.0"/>
<path d="M318.8,254.0 L312.5,269.3"/>
<path d="M346.0,269.0 L337.5,290.5"/>
<path d="M292.0,234.0 L294.0,245.0"/>
<path d="M355.0,265.5 L385.0,290.5"/>
<path d="M360.0,264.3 L390.0,288.8"/>
<path d="M343.0,338.0 L343.0,365.0"/>
<path d="M402.5,322.0 L402.5,368.0"/>
<path d="M382.5,344.0 L382.5,372.0"/>
<path d="M349.0,340.0 L349.0,368.0"/>
<path d="M343.0,338.0 C344.5,339.0 348.3,342.7 352.0,344.0 C355.7,345.3 359.9,346.0 365.0,346.0 C370.1,346.0 377.5,345.1 382.5,343.8 C387.5,342.4 391.7,340.3 395.0,338.0 C398.3,335.7 401.2,331.3 402.5,330.0"/>
<path d="M343.0,365.0 C345.0,365.8 350.2,368.9 355.0,370.0 C359.8,371.1 366.2,371.7 372.0,371.5 C377.8,371.3 385.2,370.2 390.0,369.0 C394.8,367.8 399.2,364.8 401.0,364.0"/>
<path d="M329.0,364.0 L329.0,375.0"/>
<path d="M329.0,364.0 L343.0,366.0"/>
<path d="M329.0,375.0 C330.4,376.2 333.2,380.5 337.5,382.5 C341.8,384.5 348.8,385.9 355.0,387.0 C361.2,388.1 369.2,389.1 375.0,388.8 C380.8,388.5 386.2,387.0 390.0,385.0 C393.8,383.0 395.7,379.8 397.5,377.0 C399.3,374.2 400.4,369.5 401.0,368.0"/>
<path d="M337.5,367.0 L337.5,382.5"/>
<path d="M373.8,369.0 L373.8,388.0"/>
<path d="M418.0,305.0 C418.3,307.2 417.7,315.0 420.0,318.0 C422.3,321.0 427.0,322.5 432.0,323.0 C437.0,323.5 444.8,322.7 450.0,321.0 C455.2,319.3 460.0,316.5 463.0,313.0 C466.0,309.5 467.2,302.2 468.0,300.0"/>
<path d="M468.0,295.0 L468.0,305.0"/>
<path d="M500.0,169.5 L534.0,186.5"/>
<path d="M449.0,230.0 L534.0,187.5"/>
<path d="M534.0,187.5 L536.0,189.0"/>
<path d="M450.0,232.5 L536.0,189.0"/>
<path d="M536.0,189.0 L536.0,200.0"/>
<path d="M536.0,200.0 L518.0,209.0"/>
<path d="M533.0,185.0 L534.0,186.5"/>
<path d="M532.0,204.0 L546.0,212.0"/>
<path d="M483.0,141.8 L548.5,176.5"/>
<path d="M548.5,176.5 L548.5,212.0"/>
<path d="M485.0,147.0 L543.0,178.5"/>
<path d="M543.0,178.5 L543.0,212.0"/>
<path d="M483.0,141.8 L485.0,147.0"/>
<path d="M544.0,212.0 L548.5,212.0"/>
<path d="M520.5,210.0 L523.0,207.5 L529.0,207.0 L532.0,209.5 L531.5,213.5 L528.0,215.5 L522.0,215.5 L520.5,213.0Z"/>
<path d="M472.0,221.5 C473.0,220.9 475.7,219.6 478.0,218.0 C480.3,216.4 483.2,213.8 486.0,212.0 C488.8,210.2 492.2,208.4 494.5,207.5 C496.8,206.6 497.9,206.3 500.0,206.5 C502.1,206.7 504.8,207.4 507.0,208.5 C509.2,209.6 511.3,211.2 513.0,213.0 C514.7,214.8 516.2,216.8 517.0,219.0 C517.8,221.2 518.2,223.7 518.0,226.0 C517.8,228.3 516.9,231.0 516.0,233.0 C515.1,235.0 513.1,237.2 512.5,238.0"/>
<path d="M475.0,227.5 C476.2,226.9 479.5,225.4 482.0,224.0 C484.5,222.6 487.5,220.3 490.0,219.0 C492.5,217.7 494.7,216.3 497.0,216.0 C499.3,215.7 502.8,216.8 504.0,217.0"/>
<path d="M472.0,221.5 L475.0,227.5"/>
<path d="M475.0,227.5 L475.0,250.0"/>
<path d="M488.5,226.0 L488.5,248.0"/>
<path d="M494.5,207.5 C493.9,208.2 492.0,210.1 491.0,212.0 C490.0,213.9 488.9,216.7 488.5,219.0 C488.1,221.3 488.5,224.8 488.5,226.0"/>
<path d="M488.5,236.0 L512.5,224.0"/>
<path d="M406.5,251.0 L406.5,265.0 L421.0,271.5 L421.0,256.2 L406.5,251.0"/>
<path d="M406.5,251.0 L416.3,247.5 L427.0,250.8 L421.0,256.2"/>
<path d="M429.3,253.0 L475.0,230.0"/>
<path d="M429.3,272.5 L548.0,214.0"/>
<path d="M429.3,253.0 L429.3,272.5"/>
<path d="M421.0,256.2 L429.3,253.0"/>
<path d="M421.0,271.5 L429.3,272.5"/>
<path d="M420.6,244.3 L449.0,230.5"/>
<path d="M421.7,246.4 L449.0,233.0"/>
<path d="M432.0,278.9 L546.0,214.2"/>
<path d="M380.0,311.7 L543.0,219.2"/>
<path d="M390.0,309.5 L541.0,223.9"/>
<path d="M385.0,315.5 L539.0,228.2"/>
<path d="M385.0,318.0 L537.0,231.8"/>
<path d="M392.0,316.9 L530.0,238.7"/>
<path d="M541.0,201.5 C542.3,202.1 546.8,203.6 549.0,205.0 C551.2,206.4 552.9,208.2 554.0,210.0 C555.1,211.8 555.7,214.2 555.5,216.0 C555.3,217.8 554.6,219.6 553.0,221.0 C551.4,222.4 547.2,223.9 546.0,224.5"/>
<path d="M539.0,204.8 C540.2,205.4 544.0,207.1 546.0,208.5 C548.0,209.9 550.0,211.9 551.0,213.5 C552.0,215.1 552.3,216.6 552.0,218.0 C551.7,219.4 550.5,220.8 549.0,222.0 C547.5,223.2 544.0,224.8 543.0,225.3"/>
<path d="M340.6,332.5 C341.8,333.2 343.3,336.1 347.5,337.0 C351.7,337.9 359.8,338.6 366.0,338.0 C372.2,337.4 376.0,336.6 385.0,333.3 C394.0,330.0 405.8,325.5 420.0,318.3 C434.2,311.1 454.2,299.1 470.0,290.0 C485.8,280.9 501.7,271.3 515.0,263.8 C528.3,256.3 542.2,249.5 550.0,245.2 C557.8,240.9 559.2,240.1 561.7,238.2 C564.2,236.2 564.6,234.3 565.2,233.5"/>
<path d="M565.2,233.5 L565.8,218.3"/>
<path d="M548.8,202.0 C550.5,202.8 556.8,204.9 559.3,206.7 C561.8,208.4 562.9,210.6 564.0,212.5 C565.1,214.4 565.5,217.3 565.8,218.3"/>
<path d="M548.8,203.8 C550.3,204.6 555.8,206.8 558.0,208.4 C560.2,210.1 561.4,211.8 562.3,213.7 C563.2,215.5 563.5,217.9 563.4,219.5 C563.3,221.1 563.4,222.0 561.7,223.0 C560.1,224.0 554.9,224.9 553.5,225.3"/>
<path d="M553.5,225.3 L515.0,246.3"/>
<path d="M515.0,246.3 L395.0,313.3"/>
</g>
<g stroke="none"><path d="M423.5,198.3 Q432,196.3 442.5,197.8 L442.5,202.8 Q432,205 423.5,203.2Z" fill="#222"/><path d="M424.5,208.2 Q432,206.8 441.5,207.8 L441.5,210.3 Q432,212 424.5,210.8Z" fill="#333"/><path d="M425,185.8 Q434,184.8 444,185.8 L444,187.6 Q434,189 425,187.8Z" fill="#555"/><ellipse cx="526.3" cy="211.5" rx="4.5" ry="3" fill="#444"/></g>
<path d="M390.0,313.0 L390.5,314.9 M392.6,311.5 L393.1,313.4 M395.2,310.0 L395.7,311.9 M397.8,308.6 L398.3,310.5 M400.4,307.1 L400.9,309.0 M403.0,305.6 L403.5,307.5 M405.6,304.1 L406.1,306.0 M408.2,302.7 L408.7,304.6 M410.8,301.2 L411.3,303.1 M413.4,299.7 L413.9,301.6 M416.0,298.2 L416.5,300.1 M418.6,296.8 L419.1,298.7 M421.2,295.3 L421.7,297.2 M423.8,293.8 L424.3,295.7 M426.4,292.3 L426.9,294.2 M429.0,290.9 L429.5,292.8 M431.6,289.4 L432.1,291.3 M434.2,287.9 L434.7,289.8 M436.8,286.4 L437.3,288.3 M439.4,285.0 L439.9,286.9 M442.0,283.5 L442.5,285.4 M444.6,282.0 L445.1,283.9 M447.2,280.5 L447.7,282.4 M449.8,279.1 L450.3,281.0 M452.4,277.6 L452.9,279.5 M455.0,276.1 L455.5,278.0 M457.6,274.7 L458.1,276.6 M460.2,273.2 L460.7,275.1 M462.8,271.7 L463.3,273.6 M465.4,270.2 L465.9,272.1 M468.0,268.8 L468.5,270.7 M470.6,267.3 L471.1,269.2 M473.2,265.8 L473.7,267.7 M475.8,264.3 L476.3,266.2 M478.4,262.9 L478.9,264.8 M481.0,261.4 L481.5,263.3 M483.6,259.9 L484.1,261.8 M486.2,258.4 L486.7,260.3 M488.8,257.0 L489.3,258.9 M491.4,255.5 L491.9,257.4 M494.0,254.0 L494.5,255.9 M496.6,252.5 L497.1,254.4 M499.2,251.1 L499.7,253.0 M501.8,249.6 L502.3,251.5 M504.4,248.1 L504.9,250.0 M507.0,246.6 L507.5,248.5 M509.6,245.2 L510.1,247.1 M512.2,243.7 L512.7,245.6 M514.8,242.2 L515.3,244.1 M517.4,240.7 L517.9,242.6 M520.0,239.3 L520.5,241.2 M522.6,237.8 L523.1,239.7 M525.2,236.3 L525.7,238.2 M527.8,234.8 L528.3,236.7 M530.4,233.4 L530.9,235.3 M533.0,231.9 L533.5,233.8 M535.6,230.4 L536.1,232.3" stroke="#000" stroke-width="0.7" fill="none"/>
<g stroke="#000" stroke-width="1.2" fill="#fff" stroke-linejoin="round"><path d="M322.0,119.8 L336.0,118.2 L350.0,117.3 L351.5,122.0 L338.0,123.3 L326.0,125.2Z"/></g>
<g stroke="#1a1a1a" fill="none" stroke-width="0.9"><path d="M145.0,226.0 L145.0,426.0" /><path d="M143.0,226.0 L340.0,116.0" /><path d="M142.0,427.0 L300.0,341.0" /><path d="M164.0,311.0 L284.0,379.0" /><path d="M160.0,312.0 L245.0,266.0" /><path d="M280.0,381.0 L392.0,319.0" /><path d="M644.0,254.0 L419.0,376.0" /><path d="M563.0,210.5 L642.0,255.0" /><path d="M344.0,340.0 L420.0,377.0" /></g>
<g stroke="#1a1a1a" fill="#fff" stroke-width="0.9"><path d="M145.0,226.0 L141.3,235.5 L149.3,232.5Z" /><path d="M145.0,426.0 L141.3,417.0 L149.3,416.0Z" /><path d="M163.8,311.3 L167.0,317.0 L175.0,314.0Z" /><path d="M283.8,378.8 L272.5,376.0 L279.5,372.5Z" /><path d="M643.8,253.8 L630.0,255.0 L636.0,260.5Z" /><path d="M419.0,376.0 L431.0,371.0 L427.0,378.5Z" /></g>
<g font-family="Liberation Sans, sans-serif" font-size="16.5" fill="#222"><text transform="translate(139,323) rotate(-90)" text-anchor="middle">100</text><text transform="translate(232,339) rotate(30)" text-anchor="middle" dy="6">60</text><text transform="translate(522,309) rotate(-29)" text-anchor="middle" dy="6">104</text></g>
<!-- wiring diagrams -->
<g stroke="#111" fill="none" stroke-width="1.7">
<rect x="237" y="432" width="132" height="111"/>
<rect x="395" y="432" width="177" height="111"/>
<path id="sw" d="M275.5,450 V478 H268 L275.5,496.5 V525.5"/>
<use href="#sw" x="55"/>
<use href="#sw" x="156.5"/>
<use href="#sw" x="208.3"/>
<use href="#sw" x="260.3"/>
</g>
<g fill="#111">
<circle cx="275.5" cy="450" r="2.3"/><circle cx="275.5" cy="525.5" r="2.3"/>
<circle cx="330.5" cy="450" r="2.3"/><circle cx="330.5" cy="525.5" r="2.3"/>
<circle cx="432" cy="450" r="2.3"/><circle cx="432" cy="525.5" r="2.3"/>
<circle cx="483.8" cy="450" r="2.3"/><circle cx="483.8" cy="525.5" r="2.3"/>
<circle cx="535.8" cy="450" r="2.3"/><circle cx="535.8" cy="525.5" r="2.3"/>
</g>
<g class="lb">
<text x="258.8" y="443.5" letter-spacing="3.1">LINE</text>
<text x="313.8" y="443.5" letter-spacing="3.1">LINE</text>
<text x="417.5" y="443.5" letter-spacing="3.1">LINE</text>
<text x="469" y="443.5" letter-spacing="3.1">LINE</text>
<text x="520.3" y="443.5" letter-spacing="3.1">LINE</text>
<text x="253.3" y="539.5" letter-spacing="1.1">MOTOR</text>
<text x="308.3" y="539.5" letter-spacing="1.1">MOTOR</text>
<text x="412.3" y="539.5" letter-spacing="1.1">MOTOR</text>
<text x="463.3" y="539.5" letter-spacing="1.1">MOTOR</text>
<text x="514.8" y="539.5" letter-spacing="1.1">MOTOR</text>
</g>
<g class="cap">
<text x="285.4" y="560.3" letter-spacing="0.6">PM/5</text>
<text x="452.5" y="560.3" letter-spacing="-0.25">PT/5 -PT/12</text>
</g>
</svg>
</body></html>
